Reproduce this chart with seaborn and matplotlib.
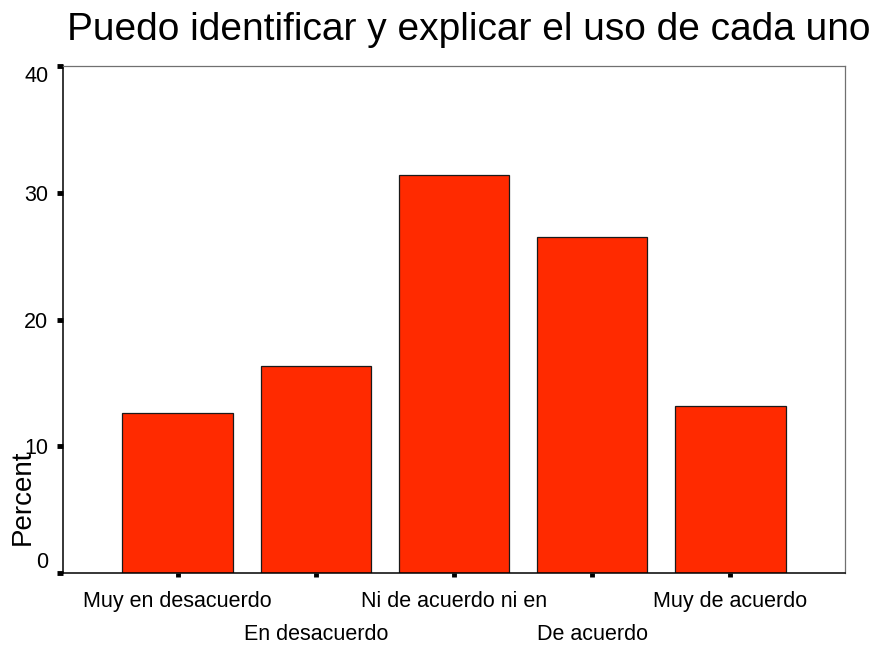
import matplotlib
matplotlib.use("Agg")
import matplotlib.pyplot as plt
import seaborn as sns

# data
categories = ["Muy en desacuerdo", "En desacuerdo", "Ni de acuerdo ni en",
              "De acuerdo", "Muy de acuerdo"]
percent = [12.6, 16.3, 31.4, 26.5, 13.2]
y_ticks = [0, 10, 20, 30, 40]
title = "Puedo identificar y explicar el uso de cada uno"

sns.set_style("white")
plt.rcParams['font.family'] = ['Liberation Sans', 'DejaVu Sans']
plt.rcParams['text.color'] = 'black'
plt.rcParams['axes.labelcolor'] = 'black'

fig = plt.figure(figsize=(8.79, 6.5), dpi=100)
ax = fig.add_axes([63 / 879, 77 / 650, 782 / 879, 507 / 650])

sns.barplot(x=categories, y=percent, color="#ff2a00", saturation=1,
            edgecolor="#1a1a1a", linewidth=0.9, width=0.8, ax=ax)

ax.set_xlim(-0.83, 4.83)
ax.set_ylim(0, 40)
ax.set_yticks(y_ticks)
ax.set_yticklabels([str(t) for t in y_ticks])

# frame: black left/bottom, grey top/right
for side in ["left", "bottom"]:
    ax.spines[side].set_color("black")
    ax.spines[side].set_linewidth(1.1)
for side in ["top", "right"]:
    ax.spines[side].set_color("#707070")
    ax.spines[side].set_linewidth(0.9)

ax.tick_params(axis="y", left=True, direction="out", length=4, width=3.5,
               pad=6.5, labelsize=15.5, colors="black")
ax.tick_params(axis="x", bottom=True, direction="out", length=3, width=3.5,
               pad=10, labelsize=15.5, colors="black")

# staggered category labels
for i, tick in enumerate(ax.xaxis.get_major_ticks()):
    if i % 2 == 1:
        tick.set_pad(34)

# end labels kept inside the axis span, like the original
ylabels = ax.get_yticklabels()
ylabels[0].set_va("bottom")
ylabels[-1].set_va("top")

ax.set_xlabel("")
ax.set_ylabel("Percent", fontsize=20, va="center", color="black")
ax.yaxis.set_label_coords(-0.051, 0.15)

ax.set_title(title, fontsize=28, x=0.519, ha="center", pad=19, color="black")

fig.savefig("out.png", dpi=100)
